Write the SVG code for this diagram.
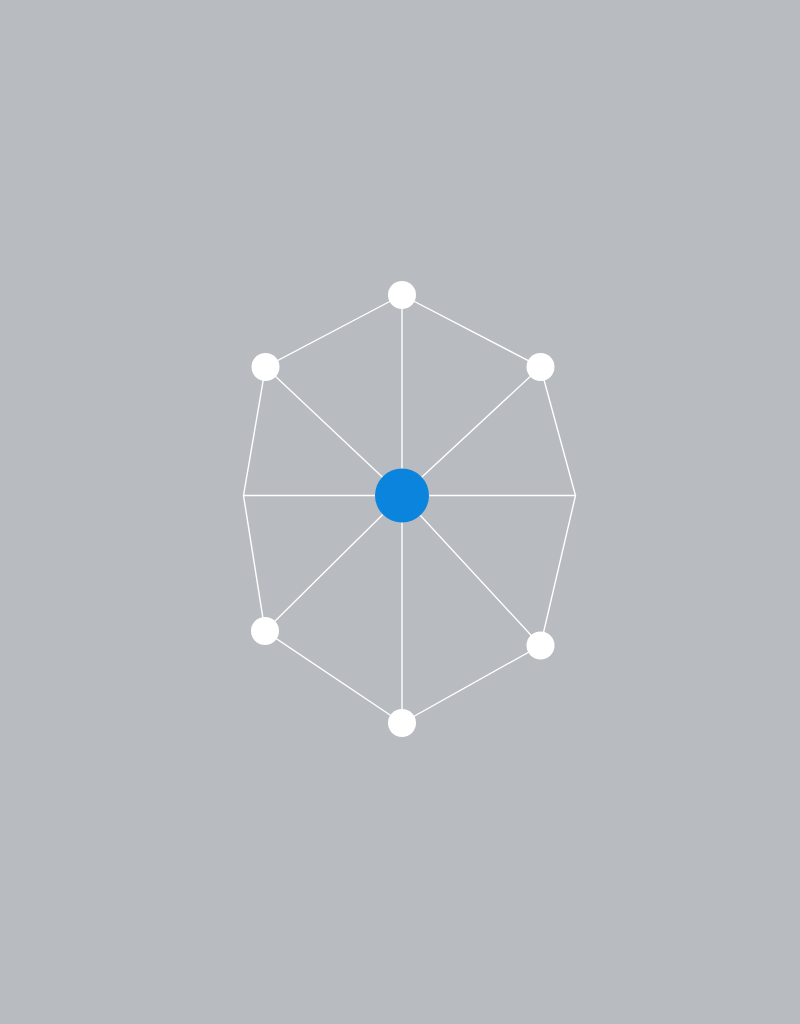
<svg xmlns="http://www.w3.org/2000/svg" width="800" height="1024" viewBox="0 0 800 1024">
<style>
.edge{stroke:#ffffff;stroke-width:1.4;fill:none;stroke-linecap:round}
.leaf{fill:#ffffff}
.hub{fill:#0b84de}
</style>
<rect width="800" height="1024" fill="#b8bbbf"/>
<g id="connectors">
<line class="edge" x1="402" y1="495.5" x2="402" y2="295"/>
<line class="edge" x1="402" y1="495.5" x2="265.5" y2="367"/>
<line class="edge" x1="402" y1="495.5" x2="540.5" y2="367"/>
<line class="edge" x1="402" y1="495.5" x2="265" y2="631"/>
<line class="edge" x1="402" y1="495.5" x2="540.5" y2="645.5"/>
<line class="edge" x1="402" y1="495.5" x2="402" y2="723"/>
<line class="edge" x1="243.5" y1="495.5" x2="575.5" y2="495.5"/>
<polyline class="edge" points="402,295 265.5,367 243.5,495.5 265,631 402,723 540.5,645.5 575.5,495.5 540.5,367 402,295"/>
</g>
<g id="node-top"><circle class="leaf" cx="402" cy="295" r="14"/></g>
<g id="node-upper-left"><circle class="leaf" cx="265.5" cy="367" r="14"/></g>
<g id="node-upper-right"><circle class="leaf" cx="540.5" cy="367" r="14"/></g>
<g id="node-lower-left"><circle class="leaf" cx="265" cy="631" r="14"/></g>
<g id="node-lower-right"><circle class="leaf" cx="540.5" cy="645.5" r="14"/></g>
<g id="node-bottom"><circle class="leaf" cx="402" cy="723" r="14"/></g>
<g id="node-center"><circle class="hub" cx="402" cy="495.5" r="27"/></g>
</svg>
